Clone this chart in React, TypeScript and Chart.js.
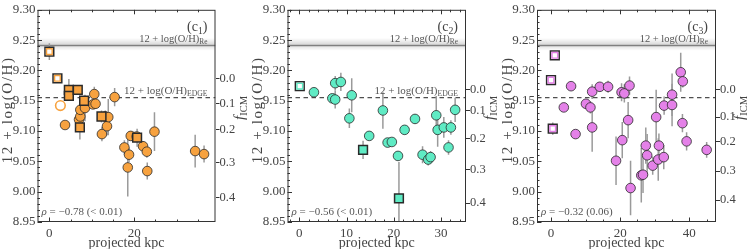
import React, { useEffect, useRef } from 'react';
import { Chart, registerables } from 'chart.js';
Chart.register(...registerables);

const FONT = '"Liberation Serif", "DejaVu Serif", serif';
const TEXT = '#444';
const EDGE = '#2a2a2a';

// ---------- shared ----------
const yTicks = [8.95, 9.0, 9.05, 9.1, 9.15, 9.2, 9.25, 9.3];
const fTickLabels = ['0.0', '0.1', '0.2', '0.3', '0.4'];
const reOH = 9.241;
const edgeOH = 9.155;

// ---------- panel c1 ----------
const c1CircleKpc = [3.7, 7.0, 7.3, 7.3, 8.4, 10.6, 10.3, 10.9, 12.4, 13.2, 13.6, 13.9, 15.4, 17.7, 18.5, 18.8, 19.2, 20.6, 22.1, 23.0, 23.1, 24.8, 34.4, 36.5];
const c1CircleOH = [9.110, 9.119, 9.124, 9.135, 9.138, 9.161, 9.144, 9.145, 9.095, 9.124, 9.108, 9.123, 9.156, 9.073, 9.040, 9.061, 9.092, 9.091, 9.075, 9.066, 9.034, 9.099, 9.067, 9.062];
const c1CircleErr = [0.003, 0.010, 0.008, 0.012, 0.022, 0.012, 0.005, 0.008, 0.012, 0.010, 0.015, 0.030, 0.015, 0.012, 0.048, 0.012, 0.006, 0.006, 0.008, 0.010, 0.014, 0.032, 0.027, 0.014];
const c1SquareKpc = [4.6, 4.6, 6.7, 8.2, 7.2, 12.3, 20.7];
const c1SquareOH = [9.168, 9.158, 9.168, 9.150, 9.106, 9.124, 9.089];
const c1SquareErr = [0.018, 0.005, 0.004, 0.005, 0.020, 0.010, 0.015];
const c1OpenSquareKpc = [0.0, 1.9];
const c1OpenSquareOH = [9.231, 9.187];
const c1OpenSquareErr = [0.014, 0.003];
const c1OpenCircleKpc = [2.6];
const c1OpenCircleOH = [9.142];
const c1OpenCircleErr = [0.008];
const c1XTicks = [0, 20];
const c1FTickOH = [9.186, 9.145, 9.102, 9.048, 8.990];

// ---------- panel c2 ----------
const c2CircleKpc = [3.1, 7.0, 7.6, 7.6, 8.8, 10.6, 11.1, 14.8, 17.7, 18.7, 19.6, 20.9, 22.3, 24.5, 26.1, 27.3, 27.8, 29.0, 29.3, 30.6, 31.6, 32.1, 33.0];
const c2CircleOH = [9.164, 9.154, 9.152, 9.179, 9.181, 9.121, 9.159, 9.092, 9.134, 9.081, 9.082, 9.059, 9.102, 9.120, 9.061, 9.053, 9.057, 9.126, 9.102, 9.106, 9.073, 9.106, 9.135];
const c2CircleErr = [0.0, 0.005, 0.015, 0.012, 0.015, 0.016, 0.028, 0.003, 0.030, 0.003, 0.003, 0.003, 0.008, 0.008, 0.014, 0.010, 0.010, 0.032, 0.028, 0.017, 0.012, 0.012, 0.020];
const c2SquareKpc = [13.5, 21.1];
const c2SquareOH = [9.069, 8.989];
const c2SquareErr = [0.015, 0.060];
const c2OpenSquareKpc = [0.1];
const c2OpenSquareOH = [9.174];
const c2OpenSquareErr = [0.003];
const c2XTicks = [0, 10, 20, 30];
const c2FTickOH = [9.169, 9.134, 9.087, 9.036, 8.981];

// ---------- panel c3 ----------
const c3CircleKpc = [3.7, 5.8, 7.1, 10.1, 11.4, 11.9, 11.9, 14.1, 16.5, 18.8, 20.4, 20.6, 21.2, 22.3, 22.7, 23.0, 26.1, 26.6, 27.4, 27.8, 29.4, 30.4, 31.0, 31.2, 32.6, 32.7, 35.0, 35.0, 37.5, 38.1, 38.0, 39.2, 45.0];
const c3CircleOH = [9.139, 9.174, 9.095, 9.145, 9.139, 9.165, 9.106, 9.173, 9.173, 9.051, 9.164, 9.085, 9.162, 9.118, 9.175, 9.006, 9.027, 9.028, 9.076, 9.060, 9.043, 9.123, 9.053, 9.076, 9.057, 9.142, 9.143, 9.160, 9.197, 9.182, 9.113, 9.083, 9.069];
const c3CircleErr = [0.0, 0.0, 0.0, 0.005, 0.010, 0.012, 0.040, 0.008, 0.010, 0.040, 0.015, 0.030, 0.015, 0.030, 0.015, 0.045, 0.045, 0.030, 0.030, 0.035, 0.015, 0.045, 0.035, 0.020, 0.020, 0.015, 0.035, 0.035, 0.032, 0.010, 0.015, 0.015, 0.013];
const c3SquareKpc: number[] = [];
const c3SquareOH: number[] = [];
const c3SquareErr: number[] = [];
const c3OpenSquareKpc = [1.1, 0.0, 0.5];
const c3OpenSquareOH = [9.225, 9.184, 9.104];
const c3OpenSquareErr = [0.003, 0.003, 0.010];
const c3XTicks = [0, 20, 40];
const c3FTickOH = [9.169, 9.123, 9.082, 9.034, 8.986];

type Group = { x: number[]; y: number[]; e: number[] };
type Panel = {
  idx: string; color: string; rho: string; edgeLabel: boolean;
  left: number; width: number; axL: number; axR: number;
  xMin: number; xMax: number; xTicks: number[]; xMinor: number; fTickOH: number[];
  circles: Group; squares: Group; openSquares: Group; openCircles: Group;
};

const panels: Panel[] = [
  {
    idx: '1', color: '#F7A23F', rho: '−0.78 (< 0.01)', edgeLabel: true,
    left: 0, width: 250, axL: 37.5, axR: 34.5,
    xMin: -2.8, xMax: 39.2, xTicks: c1XTicks, xMinor: 5, fTickOH: c1FTickOH,
    circles: { x: c1CircleKpc, y: c1CircleOH, e: c1CircleErr },
    squares: { x: c1SquareKpc, y: c1SquareOH, e: c1SquareErr },
    openSquares: { x: c1OpenSquareKpc, y: c1OpenSquareOH, e: c1OpenSquareErr },
    openCircles: { x: c1OpenCircleKpc, y: c1OpenCircleOH, e: c1OpenCircleErr },
  },
  {
    idx: '2', color: '#5FEBC4', rho: '−0.56 (< 0.01)', edgeLabel: true,
    left: 250, width: 247, axL: 37.5, axR: 31,
    xMin: -2.5, xMax: 35.3, xTicks: c2XTicks, xMinor: 2, fTickOH: c2FTickOH,
    circles: { x: c2CircleKpc, y: c2CircleOH, e: c2CircleErr },
    squares: { x: c2SquareKpc, y: c2SquareOH, e: c2SquareErr },
    openSquares: { x: c2OpenSquareKpc, y: c2OpenSquareOH, e: c2OpenSquareErr },
    openCircles: { x: [], y: [], e: [] },
  },
  {
    idx: '3', color: '#E481E8', rho: '−0.32 (0.06)', edgeLabel: false,
    left: 497, width: 250, axL: 40, axR: 31,
    xMin: -4.05, xMax: 47.7, xTicks: c3XTicks, xMinor: 5, fTickOH: c3FTickOH,
    circles: { x: c3CircleKpc, y: c3CircleOH, e: c3CircleErr },
    squares: { x: c3SquareKpc, y: c3SquareOH, e: c3SquareErr },
    openSquares: { x: c3OpenSquareKpc, y: c3OpenSquareOH, e: c3OpenSquareErr },
    openCircles: { x: [], y: [], e: [] },
  },
];

type Part = { t: string; sub?: boolean; it?: boolean };
function font(size: number, it?: boolean) {
  return `${it ? 'italic ' : ''}${size}px ${FONT}`;
}
function drawParts(ctx: CanvasRenderingContext2D, parts: Part[], x: number, y: number, size: number, align: 'left' | 'right' | 'center', color: string, spacing = 0) {
  ctx.save();
  ctx.fillStyle = color;
  ctx.textBaseline = 'alphabetic';
  ctx.textAlign = 'left';
  (ctx as any).letterSpacing = spacing + 'px';
  const sizes = parts.map(p => (p.sub ? size * 0.7 : size));
  const widths = parts.map((p, i) => { ctx.font = font(sizes[i], p.it); return ctx.measureText(p.t).width; });
  const total = widths.reduce((a, b) => a + b, 0);
  let cx = align === 'left' ? x : align === 'right' ? x - total : x - total / 2;
  parts.forEach((p, i) => {
    ctx.font = font(sizes[i], p.it);
    ctx.fillText(p.t, cx, p.sub ? y + size * 0.22 : y);
    cx += widths[i];
  });
  ctx.restore();
}

function makeDecor(p: Panel) {
  return {
    id: 'decor' + p.idx,
    beforeDatasetsDraw(chart: any) {
      const { ctx, chartArea: a, scales } = chart;
      const xs = scales.x, ys = scales.y;
      ctx.save();
      ctx.beginPath();
      ctx.rect(a.left, a.top, a.right - a.left, a.bottom - a.top);
      ctx.clip();
      const yb1 = ys.getPixelForValue(reOH + 0.0125);
      const yb2 = ys.getPixelForValue(reOH - 0.0085);
      const g = ctx.createLinearGradient(0, yb1, 0, yb2);
      g.addColorStop(0, 'rgba(0,0,0,0.0)');
      g.addColorStop(0.45, 'rgba(0,0,0,0.13)');
      g.addColorStop(0.55, 'rgba(0,0,0,0.13)');
      g.addColorStop(1, 'rgba(0,0,0,0.0)');
      ctx.fillStyle = g;
      ctx.fillRect(a.left, yb1, a.right - a.left, yb2 - yb1);
      ctx.strokeStyle = '#808080';
      ctx.lineWidth = 1.5;
      const yr = ys.getPixelForValue(reOH);
      ctx.beginPath(); ctx.moveTo(a.left, yr); ctx.lineTo(a.right, yr); ctx.stroke();
      const ye = ys.getPixelForValue(edgeOH);
      ctx.strokeStyle = '#222';
      ctx.lineWidth = 1;
      ctx.setLineDash([4.5, 3.5]);
      ctx.beginPath(); ctx.moveTo(a.left, ye); ctx.lineTo(a.right, ye); ctx.stroke();
      ctx.setLineDash([]);
      ctx.strokeStyle = '#9a9a9a';
      ctx.lineWidth = 1.5;
      [p.circles, p.squares, p.openSquares, p.openCircles].forEach(gr => {
        gr.x.forEach((xv, i) => {
          const e = gr.e[i];
          if (!e) return;
          const px = xs.getPixelForValue(xv);
          ctx.beginPath();
          ctx.moveTo(px, ys.getPixelForValue(gr.y[i] - e));
          ctx.lineTo(px, ys.getPixelForValue(gr.y[i] + e));
          ctx.stroke();
        });
      });
      ctx.restore();
    },
    afterDraw(chart: any) {
      const { ctx, chartArea: a, scales } = chart;
      const xs = scales.x, ys = scales.y;
      ctx.save();
      ctx.strokeStyle = '#333';
      ctx.lineWidth = 1;
      ctx.strokeRect(a.left + 0.5, a.top + 0.5, a.right - a.left - 1, a.bottom - a.top - 1);
      const tick = (x1: number, y1: number, x2: number, y2: number) => {
        ctx.beginPath(); ctx.moveTo(x1, y1); ctx.lineTo(x2, y2); ctx.stroke();
      };
      for (let v = Math.ceil(p.xMin / p.xMinor) * p.xMinor; v <= p.xMax; v += p.xMinor) {
        const px = Math.round(xs.getPixelForValue(v)) + 0.5;
        const major = p.xTicks.some(t => Math.abs(t - v) < 1e-6);
        const L = major ? 4.5 : 2.5;
        tick(px, a.bottom, px, a.bottom - L);
        tick(px, a.top, px, a.top + L);
      }
      for (let k = 0; k <= 35; k++) {
        const v = 8.95 + k * 0.01;
        const py = Math.round(ys.getPixelForValue(v)) + 0.5;
        const major = k % 5 === 0;
        tick(a.left, py, a.left + (major ? 4.5 : 2.5), py);
      }
      ctx.restore();
      const cx = (a.left + a.right) / 2;
      const cy = (a.top + a.bottom) / 2;
      ctx.save();
      ctx.translate(a.left - 25.5, cy - 6);
      ctx.rotate(-Math.PI / 2);
      drawParts(ctx, [{ t: '12 + log(O/H)' }], 0, 0, 15, 'center', TEXT, 1.6);
      ctx.restore();
      ctx.save();
      ctx.translate(a.right + 28, cy - 8);
      ctx.rotate(-Math.PI / 2);
      drawParts(ctx, [{ t: 'f', it: true }, { t: 'ICM', sub: true }], 0, 0, 15, 'center', TEXT);
      ctx.restore();
      drawParts(ctx, [{ t: 'projected kpc' }], cx, a.bottom + 25, 14, 'center', TEXT);
      drawParts(ctx, [{ t: '(c' }, { t: p.idx, sub: true }, { t: ')' }], a.right - 8, a.top + 21, 14, 'right', TEXT);
      drawParts(ctx, [{ t: '12 + log(O/H)' }, { t: 'Re', sub: true }], a.right - 8, ys.getPixelForValue(reOH) - 4, 10.5, 'right', '#555');
      if (p.edgeLabel) drawParts(ctx, [{ t: '12 + log(O/H)' }, { t: 'EDGE', sub: true }], a.right - 8, ys.getPixelForValue(edgeOH) - 4, 11, 'right', '#555');
      drawParts(ctx, [{ t: 'ρ', it: true }, { t: ' = ' + p.rho }], a.left + 4, a.bottom - 7, 11, 'left', '#555');
    },
  };
}

function pts(g: Group) {
  return g.x.map((x, i) => ({ x, y: g.y[i] }));
}

function PanelChart({ p }: { p: Panel }) {
  const ref = useRef<HTMLCanvasElement | null>(null);
  useEffect(() => {
    if (!ref.current) return;
    const tickFont = { family: FONT, size: 13 };
    const rightFont = { family: FONT, size: 12.5 };
    const chart = new Chart(ref.current, {
      type: 'scatter',
      data: {
        datasets: [
          { data: pts(p.openSquares), pointStyle: 'rect', pointRadius: 4, backgroundColor: '#fff', borderColor: p.color, borderWidth: 1.4 },
          { data: pts(p.openSquares), pointStyle: 'rect', pointRadius: 6.2, backgroundColor: '#fff', borderColor: EDGE, borderWidth: 1.5 },
          { data: pts(p.squares), pointStyle: 'rect', pointRadius: 6.2, backgroundColor: p.color, borderColor: EDGE, borderWidth: 1.5 },
          { data: pts(p.openCircles), pointStyle: 'circle', pointRadius: 4.8, backgroundColor: '#fff', borderColor: p.color, borderWidth: 1.6 },
          { data: pts(p.circles), pointStyle: 'circle', pointRadius: 4.8, backgroundColor: p.color, borderColor: EDGE, borderWidth: 0.8 },
        ] as any,
      },
      options: {
        responsive: false,
        animation: false,
        events: [],
        layout: { padding: { top: 5, left: 0, right: 0, bottom: 0 } },
        plugins: { legend: { display: false }, tooltip: { enabled: false } },
        scales: {
          x: {
            type: 'linear', min: p.xMin, max: p.xMax,
            afterBuildTicks: (s: any) => { s.ticks = p.xTicks.map(v => ({ value: v })); },
            afterFit: (s: any) => { s.height = 27; },
            grid: { display: false, drawTicks: false },
            border: { display: false },
            ticks: { padding: 4, font: tickFont, color: TEXT, maxRotation: 0, callback: (v: any) => String(v) },
          },
          y: {
            type: 'linear', position: 'left', min: 8.95, max: 9.3,
            afterBuildTicks: (s: any) => { s.ticks = yTicks.map(v => ({ value: v })); },
            afterFit: (s: any) => { s.width = p.axL; },
            grid: { display: false, drawTicks: false },
            border: { display: false },
            ticks: { padding: 2, font: tickFont, color: TEXT, callback: (v: any) => Number(v).toFixed(2) },
          },
          y2: {
            type: 'linear', position: 'right', min: 8.95, max: 9.3,
            afterBuildTicks: (s: any) => { s.ticks = p.fTickOH.map(v => ({ value: v })); },
            afterFit: (s: any) => { s.width = p.axR; },
            grid: { display: true, drawOnChartArea: false, drawTicks: true, tickLength: 4, color: '#333', lineWidth: 1 },
            border: { display: false },
            ticks: { padding: 0, font: rightFont, color: TEXT, callback: (_v: any, i: number) => fTickLabels[i] },
          },
        },
      } as any,
      plugins: [makeDecor(p)],
    });
    return () => chart.destroy();
  }, [p]);
  return (
    <canvas
      ref={ref}
      width={p.width}
      height={249}
      style={{ position: 'absolute', left: p.left, top: 0, width: p.width, height: 249, display: 'block' }}
    />
  );
}

export default function App() {
  return (
    <div style={{ position: 'fixed', left: 0, top: 0, width: 747, height: 249, background: '#fff', overflow: 'hidden' }}>
      {panels.map(p => <PanelChart key={p.idx} p={p} />)}
    </div>
  );
}
